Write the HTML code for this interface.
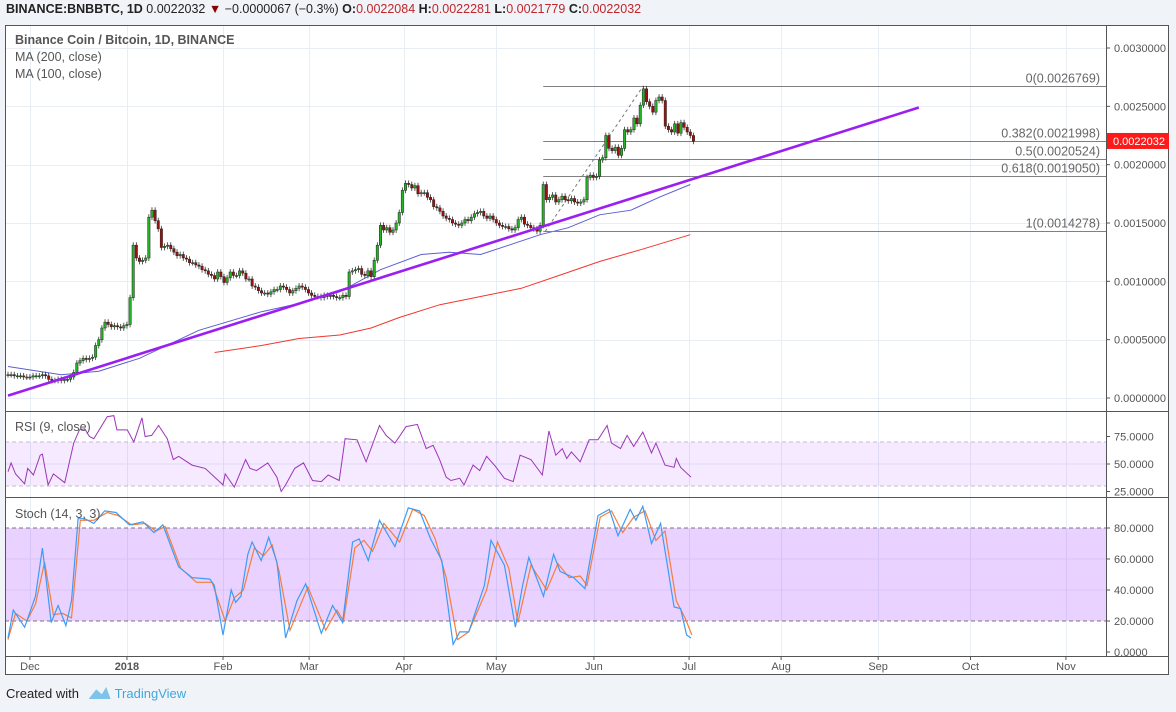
<!DOCTYPE html>
<html><head><meta charset="utf-8">
<style>
body{margin:0;width:1176px;height:712px;background:#f0f3f7;font-family:"Liberation Sans",sans-serif;overflow:hidden;position:relative}
#hdr{position:absolute;left:6px;top:2px;font-size:12.5px;color:#222;white-space:nowrap}
#hdr .r{color:#c0262b}
#ftr{position:absolute;left:6px;top:686px;font-size:13px;color:#222}
#ftr .tv{color:#3fa7e0}
svg{position:absolute;left:0;top:0}
</style></head><body>
<div id="hdr"><b style="font-weight:600">BINANCE:BNBBTC, 1D</b> 0.0022032 <span style="color:#8b0000">▼</span> −0.0000067 (−0.3%) <b style="font-weight:600">O:</b><span class="r">0.0022084</span> <b style="font-weight:600">H:</b><span class="r">0.0022281</span> <b style="font-weight:600">L:</b><span class="r">0.0021779</span> <b style="font-weight:600">C:</b><span class="r">0.0022032</span></div>
<svg id="chart" width="1176" height="712"></svg>
<div id="ftr">Created with <span style="display:inline-block;width:22px;height:12px;vertical-align:-1px;margin:0 4px 0 6px;background:#7ec4ea;clip-path:polygon(0 100%,35% 20%,60% 60%,80% 0,100% 100%)"></span><span class="tv">TradingView</span></div>
<script>
// ===== data =====
const closes=[2.0,2.0,1.9,1.9,1.9,1.8,1.8,1.8,1.9,1.9,1.9,
2.0,1.9,1.6,1.5,1.5,1.6,1.5,1.6,
1.6,1.8,2.2,3.0,3.2,3.4,3.3,
3.4,3.5,4.5,5.0,6.0,
6.5,6.3,6.1,6.2,6.1,6.0,6.2,6.3,
8.6,13.1,12.0,11.7,11.8,12.0,15.5,
16.1,15.2,14.5,12.9,13.0,
13.1,12.8,12.5,12.2,12.3,12.0,11.9,11.6,11.6,11.4,
11.3,11.0,10.9,10.6,10.5,10.2,10.8,10.4,9.9,10.3,
10.8,10.5,10.5,10.9,10.7,10.2,10.2,9.6,9.5,9.2,
9.0,9.0,8.9,9.1,9.3,9.3,9.6,9.5,9.3,9.0,
9.2,9.4,9.6,9.5,9.3,9.0,8.8,8.7,8.7,8.6,
8.8,8.7,8.8,8.7,8.6,8.6,8.8,8.7,
10.8,10.9,11.0,11.1,10.6,10.5,10.9,10.4,
11.8,13.1,14.8,14.4,14.6,14.2,14.4,15.0,15.9,
17.8,18.4,18.3,18.0,18.2,17.5,17.6,
17.6,17.2,17.0,16.4,16.3,16.0,15.6,15.4,
15.3,15.0,14.9,14.8,15.0,15.3,15.2,15.5,15.8,15.9,
16.0,15.6,15.4,15.6,15.3,15.0,14.8,14.7,14.7,14.5,
14.4,14.6,15.3,15.5,14.9,14.8,14.6,14.5,14.3,14.8,
18.3,17.0,17.2,17.4,16.8,17.0,17.3,
17.0,16.9,17.1,16.8,16.7,16.8,17.0,
18.9,19.1,18.9,19.0,20.4,20.6,
22.5,21.4,21.2,21.5,20.8,21.4,23.0,
22.8,23.0,24.0,23.5,25.1,26.5,25.4,
25.0,24.5,25.5,25.8,25.5,23.3,23.0,
22.8,23.5,22.7,23.6,23.2,22.8,22.5,22.0]; // x1e-4 BTC
const ma100Days=[0,17,29,42,61,81,93,106,119,132,141,151,160,170,179,189,199,208,218];
const ma100Vals=[2.7,2.0,2.3,3.4,5.8,7.4,8.1,9.1,11,12.3,12.5,12.3,13.1,14,14.6,15.7,16.1,17.2,18.3];
const ma200Days=[66,81,93,106,116,125,138,151,164,176,189,202,218];
const ma200Vals=[3.9,4.5,5.1,5.4,6.0,6.9,8.0,8.7,9.4,10.5,11.7,12.7,14.0];
const rsiDays=[0,1,2.4,5.3,6.3,8.1,10.3,11,12.8,14.5,18.1,21,22.8,24.5,26,27.4,31.7,33.8,34.8,38.1,40.2,42.8,43.8,45.9,48.1,50.9,52.8,54.5,58.8,63,68.7,69.4,72.3,75.9,77.3,79.4,83,85.9,87.3,88.7,91.6,94.4,97.3,100.1,102.3,105.8,107.7,111.5,114.4,118.7,120.8,123.6,127.2,130.8,133.6,135.8,137.9,140,141.5,144.3,145.7,148.6,150.7,152.9,155.7,158.6,161.4,163.6,167.1,170.7,172.8,175,177.1,178.5,180,182.8,185.7,188.5,191.4,192.8,195.7,197.8,199.9,202.8,205.6,207,209.9,212.8,213.5,214.9,218.2];
const rsiVals=[43,51,41,32,46,40,58,59,31,41,33,69,81,82,75,73,93,94,81,81,70,92,75,76,85,73,54,57,49,46,31,41,29,54,46,44,51,38,25,31,46,51,35,34,40,35,73,72,52,85,76,69,84,86,64,67,54,38,35,37,31,49,44,57,48,37,34,58,54,40,80,58,64,55,61,52,72,72,85,69,64,76,66,79,60,69,49,47,55,47,38];
const kDays=[0,1.7,5.3,8.8,11,13.8,16,18.5,20.3,22.4,24.5,27.4,30.9,34.5,38.8,43.1,46.6,49.5,54.5,58.8,64.5,65.9,68.7,71.3,72.7,74.4,76.6,78,80.9,83.3,85.9,88.7,92.3,95.1,100.1,103.7,106.9,110.1,112.2,115.1,118.7,123.6,127.9,131.5,135,138.6,142.2,144.3,147.2,152.2,154.3,158.6,162.1,164.3,166.4,171.1,174.3,176.4,180.7,184.3,188.5,192.1,194.9,198.8,200.6,202.8,205.6,208.5,212.8,214.9,216.8,218.2];
const kVals=[9,27,16,36,67,19,30,17,33,86,86,83,91,90,82,84,77,82,55,48,47,43,11,40,32,36,63,71,59,74,58,9,33,44,12,30,19,71,73,59,85,68,93,91,73,59,5,13,13,43,72,56,16,42,61,36,63,52,48,41,88,92,75,92,85,94,70,83,29,28,11,9];
const dDays=[0,2.4,6,8.8,11.7,14.5,17.4,20.3,23.1,27.4,31.7,35.2,39.5,43.8,47.3,50.2,55.2,60.2,65.2,69.4,72.3,75.2,78.7,81.6,84.4,86.6,90.1,95.8,101.5,105.1,107.2,110.8,113.7,116.5,120.1,125.1,129.3,133,136.5,140,143.6,147.2,152.9,156.4,160,162.9,167.1,172.1,175.7,179.3,182.8,185,189.2,192.8,196.4,199.9,203.5,207,209.9,213.5,216.3,218.5];
const dVals=[8,25,20,31,58,24,25,22,85,85,90,88,82,83,78,81,54,45,45,20,35,40,67,62,69,52,14,42,14,27,20,67,72,65,83,71,92,88,73,48,8,13,40,71,54,19,56,40,57,48,49,43,87,91,77,87,91,72,78,33,22,11];
const fibLevels=["0","0.382","0.5","0.618","1"];
const fibPrices=[0.0026769,0.0021998,0.0020524,0.0019050,0.0014278];
const priceTicks=[0.0030,0.0025,0.0020,0.0015,0.0010,0.0005,0.0];
const rsiTicks=[75,50,25];
const stochTicks=[80,60,40,20,0];
const monthLabels=["Dec","2018","Feb","Mar","Apr","May","Jun","Jul","Aug","Sep","Oct","Nov"];
const monthDays=[7,38,68.7,96.2,126.5,156,187.2,217.6,247,278,307.5,338];
const trendDays=[0,291];
const trendVals=[0.2,24.9];

// ===== scales =====
const X=d=>8+d*3.13;
const PY=v=>398-v*116667;
const PY4=v=>PY(v*1e-4);
const RY=v=>442-(v-70)*1.1;
const SY=v=>621-(v-20)*1.55;
const svg=document.getElementById('chart');
const NS='http://www.w3.org/2000/svg';
function el(tag,attrs,parent){const e=document.createElementNS(NS,tag);for(const k in attrs)e.setAttribute(k,attrs[k]);(parent||svg).appendChild(e);return e;}
const L=5,R=1106,OR=1169,T=25,B=675;

let e=el('rect',{x:L,y:T,width:OR-L,height:B-T,fill:'#fff'});



const grid=el('g',{stroke:'#e8eef4','stroke-width':1});


monthDays.forEach(d=>{const x=Math.round(X(d))+.5;el('line',{x1:x,x2:x,y1:T,y2:656},grid);});
priceTicks.forEach(p=>{const y=Math.round(PY(p))+.5;el('line',{x1:L,x2:R,y1:y,y2:y},grid);});
[RY(50)].forEach(y=>el('line',{x1:L,x2:R,y1:y,y2:y},grid));
[SY(40),SY(60)].forEach(y=>el('line',{x1:L,x2:R,y1:y,y2:y},grid));

e=el('rect',{x:L,y:RY(70),width:R-L,height:RY(30)-RY(70),fill:'#9b30ff','fill-opacity':0.1});


e=el('rect',{x:L,y:SY(80),width:R-L,height:SY(20)-SY(80),fill:'#9b30ff','fill-opacity':0.22});


[RY(70),RY(30),SY(80),SY(20)].forEach((y,i)=>{const l=el('line',{x1:L,x2:R,y1:y,y2:y,stroke:i<2?'#c8b8d0':'#777','stroke-dasharray':'4,3'});

});

function poly(ds,vs,fy,stroke,name,w){const p=ds.map((d,i)=>X(d).toFixed(1)+','+fy(vs[i]).toFixed(1)).join(' ');
const l=el('polyline',{points:p,fill:'none',stroke:stroke,'stroke-width':w||1});

return l;}
poly(ma200Days,ma200Vals,PY4,'#f0372e','ma-200-line');
poly(ma100Days,ma100Vals,PY4,'#5b5fd0','ma-100-line');

const fg=el('g',{});


const fibStart=X(171);
fibPrices.forEach((p,i)=>{const y=Math.round(PY(p))+.5;
const l=el('line',{x1:fibStart,x2:R,y1:y,y2:y,stroke:'#808080'},fg);


const t=el('text',{x:1100,y:y-4,'text-anchor':'end','font-size':12.5,fill:'#666'},fg);
t.textContent=fibLevels[i]+'('+p.toFixed(7)+')';

});
e=el('line',{x1:fibStart+2,y1:PY(fibPrices[4]),x2:X(203),y2:PY(fibPrices[0]),stroke:'#777','stroke-dasharray':'3,3'},fg);



const cg=el('g',{});


closes.forEach((c,i)=>{const o=i?closes[i-1]:c;const x=X(i);const up=c>=o;
const hi=Math.max(o,c)+0.25, lo=Math.min(o,c)-0.25;
const w=el('line',{x1:x,x2:x,y1:PY4(hi),y2:PY4(lo),stroke:'#333','stroke-width':0.8},cg);


const y1=PY4(Math.max(o,c)),y2=PY4(Math.min(o,c));
const r=el('rect',{x:x-1.2,y:y1,width:2.4,height:Math.max(1,y2-y1),fill:up?'#22b522':'#a0100c',stroke:'#222','stroke-width':0.5},cg);

});

e=el('line',{x1:X(trendDays[0]),y1:PY4(trendVals[0]),x2:X(trendDays[1]),y2:PY4(trendVals[1]),stroke:'#9b1ff0','stroke-width':2.6});



poly(rsiDays,rsiVals,RY,'#9c35b8','rsi-line');
poly(dDays,dVals,SY,'#f57d3d','stoch-d-line',1.2);
poly(kDays,kVals,SY,'#3d9bf5','stoch-k-line',1.2);

const fr=el('g',{stroke:'#555',fill:'none'});


el('rect',{x:L+.5,y:T+.5,width:OR-L-1,height:B-T-1},fr);
[411,497,656].forEach(y=>el('line',{x1:L,x2:OR,y1:y+.5,y2:y+.5},fr));
el('line',{x1:R+.5,x2:R+.5,y1:T,y2:656},fr);

function txt(x,y,s,name,opts){const t=el('text',Object.assign({x:x,y:y,'font-size':11,fill:'#555'},opts||{}));t.textContent=s;

return t;}
priceTicks.forEach(p=>{const y=PY(p);el('line',{x1:R,x2:R+4,y1:y,y2:y,stroke:'#555'});txt(1114,y+4,p.toFixed(7),'price-tick-label');});
rsiTicks.forEach(v=>{const y=RY(v);el('line',{x1:R,x2:R+4,y1:y,y2:y,stroke:'#555'});txt(1114,y+4,v.toFixed(4),'rsi-tick-label');});
stochTicks.forEach(v=>{const y=SY(v);el('line',{x1:R,x2:R+4,y1:y,y2:y,stroke:'#555'});txt(1114,y+4,v.toFixed(4),'stoch-tick-label');});
monthLabels.forEach((m,i)=>{const x=X(monthDays[i]);el('line',{x1:x,x2:x,y1:656,y2:660,stroke:'#555'});
txt(x,670,m,'time-tick-label',{'text-anchor':'middle','font-weight':m==='2018'?'bold':'normal'});});

const lp=0.0022032;
e=el('rect',{x:R+1,y:PY(lp)-8,width:62,height:16,fill:'#ff1a1a'});


txt(1113,PY(lp)+4,lp.toFixed(7),'last-price-label',{fill:'#fff'});

txt(15,44,'Binance Coin / Bitcoin, 1D, BINANCE','main-title',{'font-size':12.5,fill:'#555','font-weight':'bold'});
txt(15,61,'MA (200, close)','ma200-legend',{'font-size':12.5});
txt(15,78,'MA (100, close)','ma100-legend',{'font-size':12.5});
txt(15,431,'RSI (9, close)','rsi-title',{'font-size':12.5});
txt(15,518,'Stoch (14, 3, 3)','stoch-title',{'font-size':12.5});
</script>
</body></html>
